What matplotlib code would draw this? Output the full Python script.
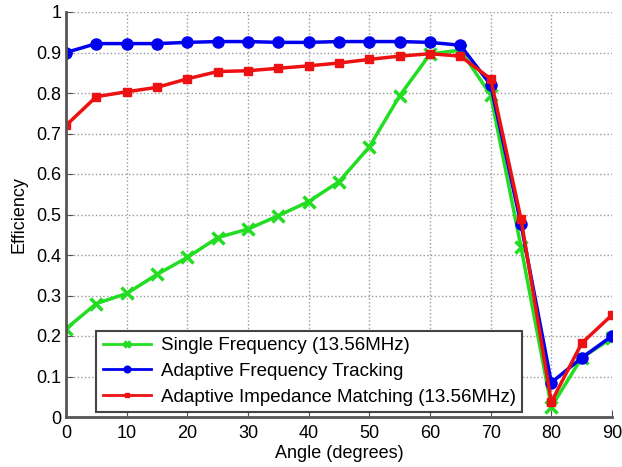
import matplotlib
matplotlib.use("Agg")
import matplotlib.pyplot as plt

angles = [0, 5, 10, 15, 20, 25, 30, 35, 40, 45, 50, 55, 60, 65, 70, 75, 80, 85, 90]
single_freq = [0.218, 0.280, 0.305, 0.352, 0.394, 0.443, 0.464, 0.497, 0.532, 0.581,
               0.667, 0.793, 0.896, 0.906, 0.795, 0.420, 0.025, 0.146, 0.195]
adaptive_freq = [0.900, 0.922, 0.922, 0.922, 0.925, 0.927, 0.927, 0.925, 0.925, 0.927,
                 0.927, 0.927, 0.925, 0.918, 0.820, 0.476, 0.085, 0.146, 0.200]
adaptive_imp = [0.720, 0.791, 0.803, 0.814, 0.835, 0.853, 0.855, 0.861, 0.867, 0.874,
                0.883, 0.891, 0.897, 0.891, 0.835, 0.489, 0.037, 0.182, 0.252]
labels = ["Single Frequency (13.56MHz)", "Adaptive Frequency Tracking",
          "Adaptive Impedance Matching (13.56MHz)"]

plt.rcParams['font.family'] = ['Liberation Sans', 'DejaVu Sans']

fig = plt.figure(figsize=(6.22, 4.67), dpi=100)
ax = fig.add_axes([66/622, 1 - 417/467, (612-66)/622, (417-12)/467])

ax.plot(angles, single_freq, color='#22dd22', lw=2.5, marker='x', ms=8, mew=2.5, label=labels[0])
ax.plot(angles, adaptive_freq, color='#0000ee', lw=2.5, marker='o', ms=8, label=labels[1])
ax.plot(angles, adaptive_imp, color='#ee1111', lw=2.5, marker='s', ms=6, label=labels[2])

ax.set_xlim(0, 90)
ax.set_ylim(0, 1)
ax.set_xticks(range(0, 91, 10))
ax.set_yticks([i / 10 for i in range(11)])
ax.set_yticklabels(['0', '0.1', '0.2', '0.3', '0.4', '0.5', '0.6', '0.7', '0.8', '0.9', '1'])
ax.tick_params(direction='in', labelsize=13, length=5, color='#555555')
ax.tick_params(axis='x', pad=6)
ax.grid(True, linestyle=':', color='#999999', lw=1)
for s in ['top', 'right']:
    ax.spines[s].set_visible(False)
for s in ['left', 'bottom']:
    ax.spines[s].set_color('#555555')
    ax.spines[s].set_linewidth(2)
ax.set_xlabel('Angle (degrees)', fontsize=13, labelpad=2)
ax.set_ylabel('Efficiency', fontsize=13, labelpad=6)

leg = ax.legend(loc='lower left', bbox_to_anchor=(0.055, 0.012), fontsize=13.5, fancybox=False,
                framealpha=1, edgecolor='#444444', handlelength=2.6, borderpad=0.35,
                labelspacing=0.45, handletextpad=0.5, borderaxespad=0, markerscale=0.6)
leg.get_frame().set_linewidth(1.5)
for ln in leg.get_lines():
    ln.set_linewidth(2)

fig.savefig('out.png', dpi=100)
